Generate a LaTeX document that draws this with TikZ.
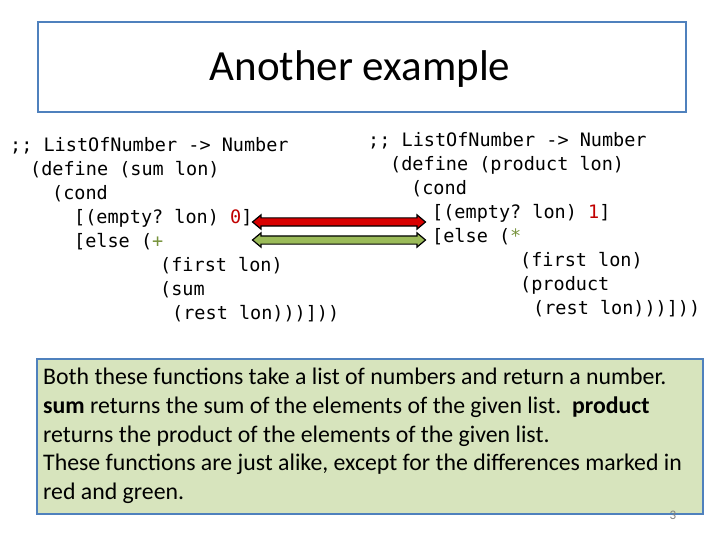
\documentclass[tikz,border=0pt]{standalone}
\usepackage{fontspec}
\setmainfont{Carlito}
\setmonofont{DejaVu Sans Mono}
\usetikzlibrary{shapes.arrows}
\definecolor{bord}{HTML}{4F81BD}
\definecolor{gfill}{HTML}{D7E4BD}
\definecolor{cred}{HTML}{C00000}
\definecolor{cgreen}{HTML}{77933C}
\definecolor{agreen}{HTML}{9BBB59}
\begin{document}
\begin{tikzpicture}[x=1pt,y=-1pt,
 code/.style={anchor=mid west,inner sep=0pt,font=\fontsize{18.5}{20}\selectfont\ttfamily},
 dbl/.style={double arrow,draw=black,line width=1.2pt,minimum height=173pt,inner xsep=0pt,inner ysep=3.5pt,double arrow head extend=3pt,double arrow tip angle=80}]
\useasboundingbox (0,0) rectangle (720,540);
\node[draw=bord,line width=2pt,minimum width=648pt,minimum height=90pt,anchor=north west,inner sep=0pt] (title) at (37,21) {};
\node[font=\fontsize{43}{48}\selectfont] (tt) at (360,69) {Another example};
% left code
\node[code] (l1) at (10,149) {;; ListOfNumber -> Number};
\node[code] (l2) at (30,173) {(define (sum lon)};
\node[code] (l3) at (52,197) {(cond};
\node[code] (l4) at (74,221) {[(empty? lon) \textcolor{cred}{0}]};
\node[code] (l5) at (74,245) {[else (\textcolor{cgreen}{+}};
\node[code] (l6) at (160,269) {(first lon)};
\node[code] (l7) at (160,293) {(sum};
\node[code] (l8) at (172,317) {(rest lon)))]))};
% right code
\node[code] (r1) at (368,144) {;; ListOfNumber -> Number};
\node[code] (r2) at (390,168) {(define (product lon)};
\node[code] (r3) at (411,192) {(cond};
\node[code] (r4) at (432,216) {[(empty? lon) \textcolor{cred}{1}]};
\node[code] (r5) at (432,240) {[else (\textcolor{cgreen}{*}};
\node[code] (r6) at (520,264) {(first lon)};
\node[code] (r7) at (520,288) {(product};
\node[code] (r8) at (533,312) {(rest lon)))]))};
% arrows
\node[dbl,fill=red!85!black] (a1) at (339,222) {};
\node[dbl,fill=agreen] (a2) at (339,240) {};
% bottom box
\node[draw=bord,line width=2pt,fill=gfill,minimum width=666pt,minimum height=155pt,anchor=north west,inner sep=0pt] (box) at (36,358) {};
\node[anchor=north west,inner sep=0pt,align=left,font=\fontsize{23.8}{28.7}\selectfont] (bt) at (43,368) {Both these functions take a list of numbers and return a number.\\\textbf{sum} returns the sum of the elements of the given list.\ \ \textbf{product}\\returns the product of the elements of the given list.\\These functions are just alike, except for the differences marked in\\red and green.};
\node[font=\fontsize{13}{14}\selectfont,text=gray] (pn) at (673,515) {3};
\end{tikzpicture}
\end{document}
